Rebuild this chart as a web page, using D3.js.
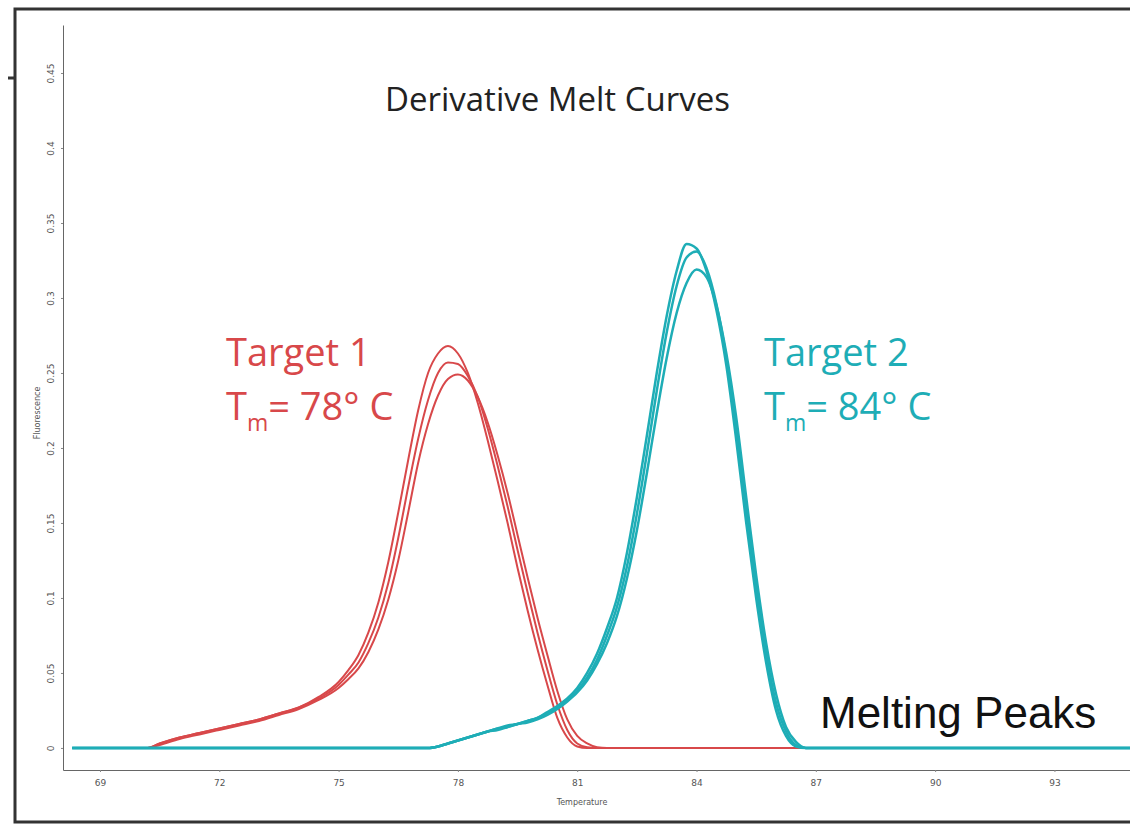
<!DOCTYPE html>
<html>
<head>
<meta charset="utf-8">
<script src="https://cdn.jsdelivr.net/npm/d3@7"></script>
<style>
  body { margin: 0; background: #fff; }
  svg { display: block; }
</style>
</head>
<body>
<div id="chart"></div>
<script>
// Derivative melt curves, two targets, three replicates each

const xTicks = [69, 72, 75, 78, 81, 84, 87, 90, 93];
const yTicks = [0, 0.05, 0.1, 0.15, 0.2, 0.25, 0.3, 0.35, 0.4, 0.45];
const yTickLabels = ["0", "0.05", "0.1", "0.15", "0.2", "0.25", "0.3", "0.35", "0.4", "0.45"];

// Target 1 (red)
const target1Temps = [68.3, 70.2, 70.5, 71, 71.5, 72, 72.5, 73, 73.5, 74, 74.5, 75, 75.25, 75.5, 75.75,
  76, 76.25, 76.5, 76.75, 77, 77.25, 77.5, 77.75, 78, 78.25, 78.5, 78.75, 79, 79.25, 79.5, 79.75,
  80, 80.25, 80.5, 80.75, 81, 81.25, 81.5, 81.75, 94.9];
const target1RepA = [0, 0, 0.003, 0.007, 0.01, 0.013, 0.016, 0.019, 0.023, 0.027, 0.034, 0.044, 0.052, 0.062, 0.077,
  0.097, 0.124, 0.157, 0.192, 0.225, 0.25, 0.263, 0.268, 0.263, 0.25, 0.23, 0.205, 0.178, 0.15, 0.12, 0.092,
  0.066, 0.042, 0.02, 0.007, 0.001, 0, 0, 0, 0];
const target1RepB = [0, 0, 0.003, 0.007, 0.01, 0.013, 0.016, 0.019, 0.023, 0.027, 0.033, 0.042, 0.049, 0.057, 0.07,
  0.087, 0.11, 0.14, 0.174, 0.206, 0.232, 0.25, 0.257, 0.256, 0.248, 0.234, 0.213, 0.188, 0.161, 0.132, 0.104,
  0.077, 0.052, 0.029, 0.012, 0.003, 0.0005, 0, 0, 0];
const target1RepC = [0, 0, 0.002, 0.006, 0.009, 0.012, 0.015, 0.018, 0.022, 0.026, 0.032, 0.04, 0.046, 0.053, 0.064,
  0.079, 0.099, 0.125, 0.157, 0.19, 0.216, 0.235, 0.246, 0.249, 0.245, 0.234, 0.217, 0.195, 0.17, 0.142, 0.114,
  0.087, 0.062, 0.038, 0.019, 0.008, 0.003, 0.0005, 0, 0];

// Target 2 (cyan)
const target2Temps = [68.3, 77.25, 77.5, 77.75, 78, 78.25, 78.5, 78.75, 79, 79.25, 79.5, 79.75, 80, 80.25,
  80.5, 80.75, 81, 81.25, 81.5, 81.75, 82, 82.25, 82.5, 82.75, 83, 83.25, 83.5, 83.75, 84, 84.25,
  84.5, 84.75, 85, 85.25, 85.5, 85.75, 86, 86.25, 86.5, 86.75, 94.9];
const target2RepA = [0, 0, 0.001, 0.003, 0.005, 0.007, 0.009, 0.011, 0.013, 0.015, 0.016, 0.018, 0.02, 0.024,
  0.028, 0.033, 0.04, 0.05, 0.063, 0.08, 0.1, 0.13, 0.167, 0.208, 0.25, 0.288, 0.318, 0.336, 0.333, 0.318,
  0.292, 0.255, 0.205, 0.15, 0.1, 0.057, 0.025, 0.008, 0.001, 0, 0];
const target2RepB = [0, 0, 0.001, 0.003, 0.005, 0.007, 0.009, 0.011, 0.013, 0.014, 0.016, 0.018, 0.02, 0.023,
  0.027, 0.032, 0.038, 0.047, 0.059, 0.075, 0.094, 0.121, 0.156, 0.196, 0.238, 0.277, 0.308, 0.327, 0.331, 0.32,
  0.296, 0.26, 0.212, 0.158, 0.107, 0.063, 0.03, 0.011, 0.002, 0, 0];
const target2RepC = [0, 0, 0.001, 0.003, 0.005, 0.007, 0.009, 0.011, 0.012, 0.014, 0.016, 0.017, 0.019, 0.022,
  0.026, 0.031, 0.037, 0.045, 0.056, 0.07, 0.088, 0.113, 0.145, 0.183, 0.223, 0.26, 0.29, 0.31, 0.319, 0.314,
  0.295, 0.263, 0.22, 0.167, 0.115, 0.07, 0.036, 0.014, 0.004, 0, 0];

const red = "#d8484a";
const cyan = "#1eadb6";

class MeltPlot {

  constructor(element) {
    this.element = element;
    this.width = 1130;
    this.height = 825;
    this.margin = {top: 25, right: 0, bottom: 55, left: 63};
    this.draw();
  }

  draw() {
    this.svg = d3.select(this.element)
      .append("svg")
      .attr("width", this.width)
      .attr("height", this.height);

    this._drawFrame();
    this._createScales();
    this._drawAxes();
    this._drawCurves();
    this._drawLabels();
  }

  _drawFrame() {
    this.svg.append("path")
      .attr("d", `M${this.width},9 H15 V822 H${this.width}`)
      .attr("fill", "none")
      .attr("stroke", "#333")
      .attr("stroke-width", 3);

    this.svg.append("line")
      .attr("x1", 8).attr("x2", 15)
      .attr("y1", 78).attr("y2", 78)
      .attr("stroke", "#333")
      .attr("stroke-width", 3);
  }

  _createScales() {
    const m = this.margin;

    this.x = d3.scaleLinear()
      .domain([68.07, 94.9])
      .range([m.left, this.width - m.right]);

    this.y = d3.scaleLinear()
      .domain([-0.0147, 0.482])
      .range([this.height - m.bottom, m.top]);
  }

  _drawAxes() {
    const m = this.margin;

    const xAxis = g => g
      .attr("transform", `translate(0,${this.height - m.bottom})`)
      .call(d3.axisBottom(this.x).tickValues(xTicks).tickSize(2).tickSizeOuter(0).tickPadding(8))
      .call(g => g.select(".domain").attr("stroke", "#666"))
      .call(g => g.selectAll(".tick line").attr("stroke", "#888"))
      .call(g => g.selectAll(".tick text")
        .attr("fill", "#555")
        .style("font", "9px 'DejaVu Sans', sans-serif"));

    const yAxis = g => g
      .attr("transform", `translate(${m.left},0)`)
      .call(d3.axisLeft(this.y).tickValues(yTicks).tickSize(2).tickSizeOuter(0)
        .tickFormat((d, i) => yTickLabels[i]))
      .call(g => g.select(".domain").attr("stroke", "#666"))
      .call(g => g.selectAll(".tick line").attr("stroke", "#888"))
      .call(g => g.selectAll(".tick text")
        .attr("x", null)
        .attr("dy", null)
        .attr("text-anchor", "middle")
        .attr("transform", "translate(-9,0) rotate(-90)")
        .attr("fill", "#555")
        .style("font", "9px 'DejaVu Sans', sans-serif"));

    this.svg.append("g").call(xAxis);
    this.svg.append("g").call(yAxis);

    this.svg.append("text")
      .attr("x", 582)
      .attr("y", 805)
      .attr("text-anchor", "middle")
      .attr("fill", "#555")
      .style("font", "8px 'DejaVu Sans', sans-serif")
      .text("Temperature");

    this.svg.append("text")
      .attr("transform", "translate(40,413) rotate(-90)")
      .attr("text-anchor", "middle")
      .attr("fill", "#555")
      .style("font", "8px 'DejaVu Sans', sans-serif")
      .text("Fluorescence");
  }

  _drawCurves() {
    const line = d3.line()
      .x(d => this.x(d[0]))
      .y(d => this.y(d[1]))
      .curve(d3.curveMonotoneX);

    const series = [
      {temps: target1Temps, values: target1RepA, color: red, w: 2},
      {temps: target1Temps, values: target1RepB, color: red, w: 2},
      {temps: target1Temps, values: target1RepC, color: red, w: 2},
      {temps: target2Temps, values: target2RepA, color: cyan, w: 2.5},
      {temps: target2Temps, values: target2RepB, color: cyan, w: 2.5},
      {temps: target2Temps, values: target2RepC, color: cyan, w: 2.5}
    ];

    this.svg.append("g")
      .attr("fill", "none")
      .selectAll("path")
      .data(series)
      .join("path")
        .attr("d", s => line(d3.zip(s.temps, s.values)))
        .attr("stroke", s => s.color)
        .attr("stroke-width", s => s.w)
        .attr("stroke-linejoin", "round");
  }

  _drawLabels() {
    const font = "'Open Sans', sans-serif";

    this.svg.append("text")
      .attr("x", 385)
      .attr("y", 111)
      .attr("fill", "#222")
      .style("font", `33px ${font}`)
      .text("Derivative Melt Curves");

    const target = (x, color, name, tm) => {
      const g = this.svg.append("g")
        .attr("fill", color)
        .style("font", `38px ${font}`);
      g.append("text").attr("x", x).attr("y", 366).text(name);
      const t = g.append("text").attr("x", x).attr("y", 420);
      t.append("tspan").text("T");
      t.append("tspan").attr("dy", 11).style("font-size", "23px").text("m");
      t.append("tspan").attr("dy", -11).text(`= ${tm}° C`);
    };

    target(226, red, "Target 1", 78);
    target(764, cyan, "Target 2", 84);

    this.svg.append("text")
      .attr("x", 820)
      .attr("y", 728)
      .attr("fill", "#111")
      .style("font", "44px 'Liberation Sans', Arial, sans-serif")
      .text("Melting Peaks");
  }
}

new MeltPlot(document.getElementById("chart"));
</script>
</body>
</html>
